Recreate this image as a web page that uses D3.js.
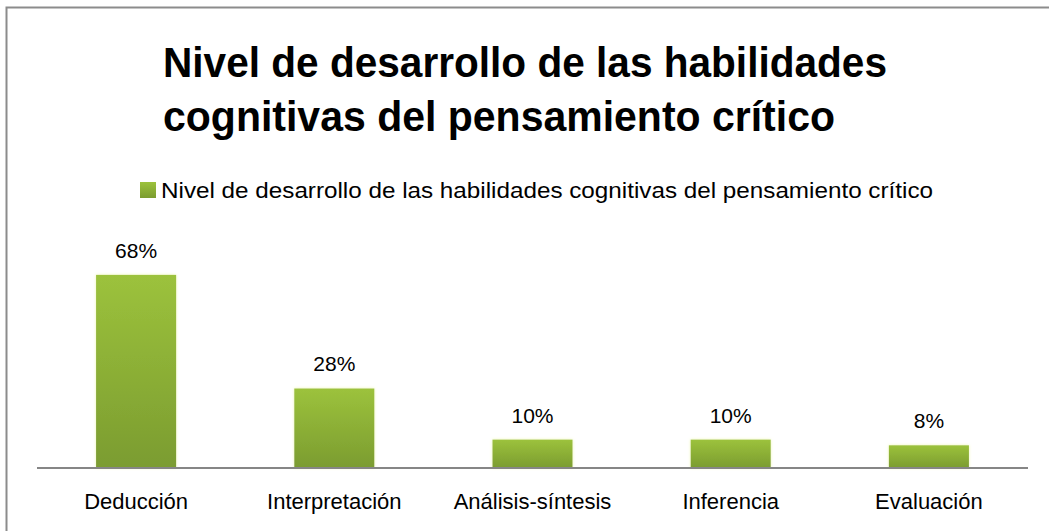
<!DOCTYPE html>
<html><head><meta charset="utf-8">
<script src="https://cdn.jsdelivr.net/npm/d3@7"></script>
<style>html,body{margin:0;padding:0;background:#fff;}svg{display:block;}</style>
</head><body>
<script>
const categories = ["Deducción","Interpretación","Análisis-síntesis","Inferencia","Evaluación"];
const values = [68, 28, 10, 10, 8];
const valueLabels = ["68%","28%","10%","10%","8%"];
const titleLines = ["Nivel de desarrollo de las habilidades","cognitivas del pensamiento crítico"];
const seriesName = "Nivel de desarrollo de las habilidades cognitivas del pensamiento crítico";

const W = 1049, H = 531;
const font = "Liberation Sans, Arial, sans-serif";
const svg = d3.select("body").append("svg").attr("width", W).attr("height", H);

const defs = svg.append("defs");
const g = defs.append("linearGradient").attr("id","barGrad").attr("x1",0).attr("y1",0).attr("x2",0).attr("y2",1);
g.append("stop").attr("offset","0%").attr("stop-color","#9cc23c");
g.append("stop").attr("offset","100%").attr("stop-color","#7b9c30");
const f = defs.append("filter").attr("id","glow").attr("x","-20%").attr("y","-20%").attr("width","140%").attr("height","140%");
f.append("feGaussianBlur").attr("in","SourceAlpha").attr("stdDeviation",1.5).attr("result","b");
f.append("feFlood").attr("flood-color","#eef7b0");
f.append("feComposite").attr("in2","b").attr("operator","in").attr("result","c");
const m = f.append("feMerge"); m.append("feMergeNode").attr("in","c"); m.append("feMergeNode").attr("in","SourceGraphic");

// border
svg.append("rect").attr("x",6.5).attr("y",7.5).attr("width",W+5).attr("height",H+5)
  .attr("fill","none").attr("stroke","#8c8c8c").attr("stroke-width",2);

// title
svg.append("g").selectAll("text").data(titleLines).join("text")
  .attr("x",163).attr("y",(d,i)=>77+i*54)
  .attr("font-family",font).attr("font-weight","bold").attr("font-size",43)
  .attr("fill","#000")
  .attr("textLength",(d,i)=>i===0?724:672).attr("lengthAdjust","spacingAndGlyphs")
  .text(d=>d);

// legend
svg.append("rect").attr("x",140).attr("y",182).attr("width",16).attr("height",16).attr("fill","url(#barGrad)");
svg.append("text").attr("x",161).attr("y",198).attr("font-family",font).attr("font-size",22)
  .attr("fill","#000").attr("textLength",772).attr("lengthAdjust","spacingAndGlyphs").text(seriesName);

const x = d3.scaleBand().domain(categories).range([37,1028]).paddingInner(0.596).paddingOuter(0.298);
const y = d3.scaleLinear().domain([0,100]).range([468,184]);

svg.append("g").selectAll("rect").data(values).join("rect")
  .attr("x",(d,i)=>x(categories[i])).attr("width",x.bandwidth())
  .attr("y",d=>y(d)).attr("height",d=>y(0)-y(d))
  .attr("fill","url(#barGrad)").attr("filter","url(#glow)");

svg.append("g").selectAll("text").data(values).join("text")
  .attr("x",(d,i)=>x(categories[i])+x.bandwidth()/2).attr("y",d=>y(d)-17)
  .attr("text-anchor","middle").attr("font-family",font).attr("font-size",21).attr("fill","#000")
  .text((d,i)=>valueLabels[i]);

const ax = svg.append("g").attr("transform","translate(0,468)")
  .call(d3.axisBottom(x).tickSize(0).tickPadding(25));
ax.select(".domain").attr("stroke","#868686").attr("stroke-width",2).attr("d","M37,0H1028");
ax.selectAll("text").attr("font-family",font).attr("font-size",22).attr("fill","#000");
</script>
</body></html>
